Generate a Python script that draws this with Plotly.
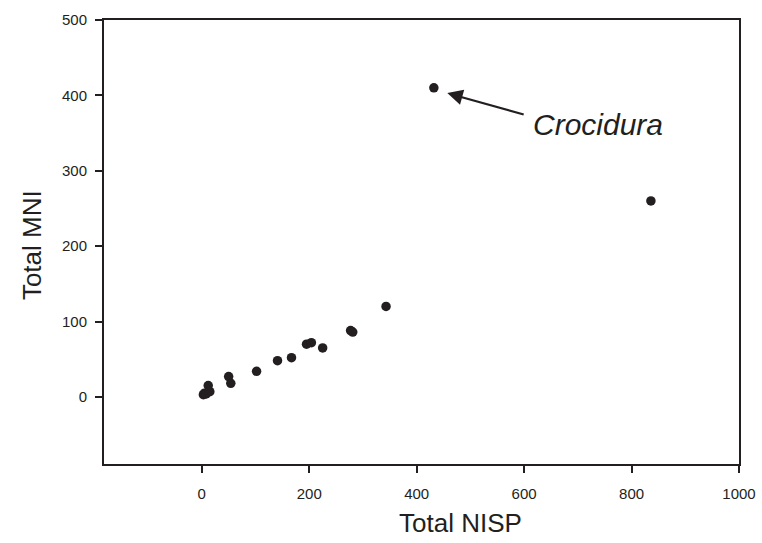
import plotly.graph_objects as go

# Total NISP vs total MNI per taxon
nisp = [3, 5, 8, 12, 15, 50, 54, 102, 141, 167, 195, 204, 225, 277, 281, 343, 432, 836]
mni = [3, 5, 4, 15, 7, 27, 18, 34, 48, 52, 70, 72, 65, 88, 86, 120, 410, 260]

x_ticks = [0, 200, 400, 600, 800, 1000]
y_ticks = [0, 100, 200, 300, 400, 500]

ink = "#231f20"
font = "Liberation Sans, Arial, sans-serif"

fig = go.Figure()
fig.add_trace(go.Scatter(
    x=nisp, y=mni, mode="markers",
    marker=dict(size=9.5, color=ink, line=dict(width=0)),
    showlegend=False, hoverinfo="x+y",
))

# Label with arrow pointing at the Crocidura point
fig.add_annotation(
    x=457, y=403, ax=602, ay=374, xref="x", yref="y", axref="x", ayref="y",
    text="", showarrow=True, arrowhead=2, arrowsize=1.4, arrowwidth=2.2,
    arrowcolor=ink,
)
fig.add_annotation(
    x=612, y=361, xref="x", yref="y", text="<i>Crocidura</i>",
    showarrow=False, xanchor="left", yanchor="middle",
    font=dict(family=font, size=30, color=ink),
)

# Axis titles
fig.add_annotation(
    x=0.562, y=-0.133, xref="paper", yref="paper", text="Total NISP",
    showarrow=False, xanchor="center", yanchor="middle",
    font=dict(family=font, size=26, color=ink),
)
fig.add_annotation(
    x=-0.1134, y=0.493, xref="paper", yref="paper", text="Total MNI",
    showarrow=False, xanchor="center", yanchor="middle", textangle=-90,
    font=dict(family=font, size=26, color=ink),
)

axis_common = dict(
    showgrid=False, zeroline=False, showline=True, linecolor=ink, linewidth=2,
    mirror=True, ticks="outside", ticklen=7, tickwidth=2, tickcolor=ink,
    tickfont=dict(family=font, size=15, color=ink), automargin=False,
)

fig.update_xaxes(
    range=[-182, 1000], tickvals=x_ticks, ticktext=[str(v) for v in x_ticks],
    ticklabelstandoff=8, **axis_common,
)
fig.update_yaxes(
    range=[-89, 500], tickvals=y_ticks, ticktext=[str(v) for v in y_ticks],
    ticklabelstandoff=5, **axis_common,
)

fig.update_layout(
    width=762, height=543,
    margin=dict(l=104, r=23, t=20, b=79, pad=0),
    plot_bgcolor="white", paper_bgcolor="white",
)

fig.write_html("out.html")
